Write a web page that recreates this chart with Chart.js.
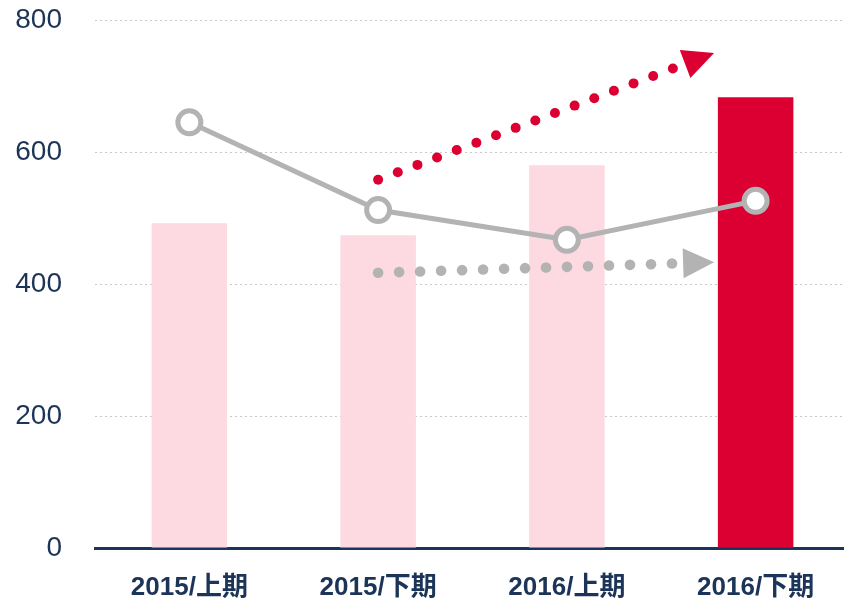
<!DOCTYPE html>
<html>
<head>
<meta charset="utf-8">
<script src="https://cdn.jsdelivr.net/npm/chart.js@4"></script>
<style>
  html, body { margin: 0; padding: 0; background: #fff; overflow: hidden; }
  #wrap { width: 844px; height: 603px; overflow: hidden; }
</style>
</head>
<body>
<div id="wrap"><canvas id="chart" width="850" height="603"></canvas></div>
<script>
/* =========================
   DATA
========================= */
const categories = ["2015/上期", "2015/下期", "2016/上期", "2016/下期"];
const barValues = [492, 474, 580, 683];
const lineValues = [645, 512, 467, 526];
const yTicks = [0, 200, 400, 600, 800];

// trend arrows: [category index, value] start -> tip
const redArrow = [[1, 558], [2.78, 750]];
const grayArrow = [[1, 417], [2.78, 433]];

const NAVY = "#1b3457";
const RED = "#dc0032";
const PINK = "#fdd9e1";
const GRAY = "#b3b3b3";
const FONT = "'Liberation Sans', Arial, 'Noto Sans CJK JP', sans-serif";

/* =========================
   ARROW PLUGIN
========================= */
function xPix(scale, v) {
  const i = Math.floor(v);
  const a = scale.getPixelForValue(i);
  const b = scale.getPixelForValue(i + 1);
  return a + (v - i) * (b - a);
}

function drawArrow(chart, pts, color, dotR) {
  const { ctx, scales } = chart;
  const x0 = xPix(scales.x, pts[0][0]), y0 = scales.y.getPixelForValue(pts[0][1]);
  const x1 = xPix(scales.x, pts[1][0]), y1 = scales.y.getPixelForValue(pts[1][1]);
  const len = Math.hypot(x1 - x0, y1 - y0);
  const ux = (x1 - x0) / len, uy = (y1 - y0) / len;
  const headLen = 31, headW = 15, gap = 21;

  ctx.save();
  ctx.fillStyle = color;
  for (let d = 0; d <= len - headLen - 3; d += gap) {
    ctx.beginPath();
    ctx.arc(x0 + ux * d, y0 + uy * d, dotR, 0, Math.PI * 2);
    ctx.fill();
  }
  const bx = x1 - ux * headLen, by = y1 - uy * headLen;
  ctx.beginPath();
  ctx.moveTo(x1, y1);
  ctx.lineTo(bx - uy * headW, by + ux * headW);
  ctx.lineTo(bx + uy * headW, by - ux * headW);
  ctx.closePath();
  ctx.fill();
  ctx.restore();
}

const arrowPlugin = {
  id: "arrows",
  afterDatasetsDraw(chart) {
    drawArrow(chart, grayArrow, GRAY, 5.3);
    drawArrow(chart, redArrow, RED, 5);
  }
};

/* =========================
   CHART
========================= */
const ctx = document.getElementById("chart").getContext("2d");

new Chart(ctx, {
  type: "bar",
  data: {
    labels: categories,
    datasets: [
      {
        type: "line",
        data: lineValues,
        borderColor: GRAY,
        borderWidth: 5,
        pointRadius: 11.5,
        pointBorderWidth: 5,
        pointBackgroundColor: "#fff",
        pointBorderColor: GRAY,
        tension: 0,
        order: 0
      },
      {
        data: barValues,
        backgroundColor: [PINK, PINK, PINK, RED],
        barPercentage: 0.4,
        categoryPercentage: 1,
        order: 1
      }
    ]
  },
  options: {
    responsive: false,
    animation: false,
    layout: { autoPadding: false, padding: { top: 20, left: 0, right: 0, bottom: 0 } },
    plugins: {
      legend: { display: false },
      tooltip: { enabled: false }
    },
    scales: {
      x: {
        afterFit: scale => {
          scale.height = 55;
          scale.paddingLeft = 0;
          scale.paddingRight = 0;
        },
        grid: { display: false, drawTicks: false },
        border: { display: true, color: NAVY, width: 3 },
        ticks: {
          padding: 24,
          maxRotation: 0,
          color: NAVY,
          font: { family: FONT, size: 26, weight: "bold" }
        }
      },
      y: {
        min: yTicks[0],
        max: yTicks[yTicks.length - 1],
        afterBuildTicks: scale => {
          scale.ticks = yTicks.map(v => ({ value: v }));
        },
        afterFit: scale => {
          scale.width = 95;
          scale.paddingTop = 0;
          scale.paddingBottom = 0;
        },
        grid: { color: "#c9c9c9", lineWidth: 1, drawTicks: false },
        border: { display: false, dash: [2, 3] },
        ticks: {
          padding: 33,
          color: NAVY,
          font: { family: FONT, size: 28 }
        }
      }
    }
  },
  plugins: [arrowPlugin]
});
</script>
</body>
</html>
